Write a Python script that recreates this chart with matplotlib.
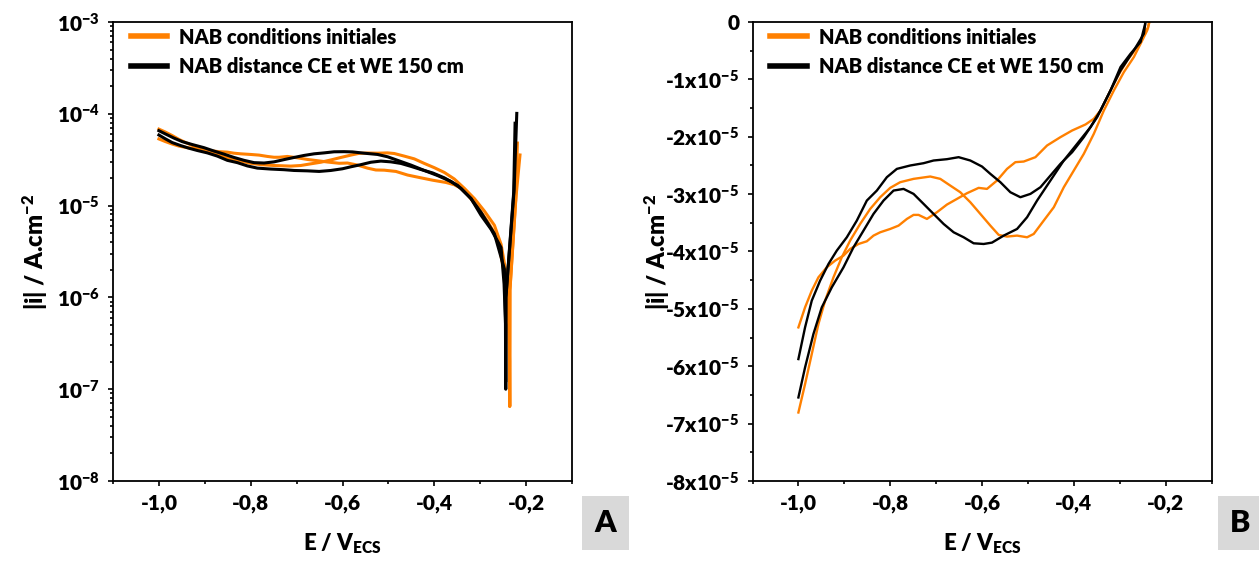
import numpy as np
import matplotlib
matplotlib.use("Agg")
import matplotlib.pyplot as plt
from matplotlib.ticker import MultipleLocator, FuncFormatter, LogLocator, NullFormatter
from matplotlib.patches import Rectangle

FONT = ['Lato', 'DejaVu Sans']
W = 'heavy'
plt.rcParams['font.family'] = FONT
plt.rcParams['font.weight'] = W
plt.rcParams['mathtext.fontset'] = 'custom'
plt.rcParams['mathtext.bf'] = 'Lato:heavy'
plt.rcParams['mathtext.rm'] = 'Lato:heavy'
plt.rcParams['mathtext.it'] = 'Lato:heavy'
plt.rcParams['mathtext.default'] = 'bf'

# ---------------- data (E in V vs ECS, i in 1e-5 A/cm2) ----------------
E_orange1 = [-1.000, -0.9855, -0.9709, -0.9564, -0.9382, -0.9200, -0.9018, -0.8873, -0.8691, -0.8509,
             -0.8364, -0.8218, -0.8000, -0.7818, -0.7636, -0.7491, -0.7382, -0.7200, -0.6982, -0.6764,
             -0.6545, -0.6327, -0.6073, -0.5891, -0.5673, -0.5455, -0.5273, -0.5091, -0.4836, -0.4582,
             -0.4291, -0.4036, -0.3745, -0.3564, -0.3418, -0.3273, -0.3055, -0.2836, -0.2618, -0.2436,
             -0.2385, -0.2360, -0.2356, -0.2352, -0.2225, -0.2190]
i_orange1 = [-5.323, -4.974, -4.683, -4.450, -4.276, -4.159, -4.072, -3.956, -3.869, -3.822,
             -3.723, -3.665, -3.607, -3.549, -3.432, -3.362, -3.362, -3.432, -3.316, -3.182,
             -3.083, -2.984, -2.891, -2.909, -2.763, -2.560, -2.443, -2.432, -2.356, -2.152,
             -2.007, -1.891, -1.786, -1.687, -1.542, -1.309, -0.960, -0.669, -0.436, -0.145,
             -0.110, -0.020, -0.0065, 0.120, 1.150, 4.800]

E_orange2 = [-1.000, -0.9855, -0.9709, -0.9564, -0.9418, -0.9236, -0.9055, -0.8873, -0.8655, -0.8436,
             -0.8218, -0.8000, -0.7782, -0.7491, -0.7127, -0.6909, -0.6691, -0.6473, -0.6255, -0.6036,
             -0.5818, -0.5636, -0.5455, -0.5236, -0.5018, -0.4873, -0.4655, -0.4436, -0.4218, -0.4000,
             -0.3782, -0.3564, -0.3345, -0.3127, -0.2909, -0.2691, -0.2545, -0.2400, -0.2365, -0.2358,
             -0.2353, -0.2230, -0.2133]
i_orange2 = [-6.806, -6.312, -5.788, -5.265, -4.857, -4.450, -4.101, -3.810, -3.520, -3.258,
             -3.054, -2.891, -2.792, -2.734, -2.693, -2.734, -2.851, -2.967, -3.141, -3.345,
             -3.549, -3.711, -3.740, -3.723, -3.752, -3.694, -3.461, -3.229, -2.880, -2.589,
             -2.298, -1.949, -1.542, -1.193, -0.873, -0.611, -0.378, -0.145, -0.030, -0.0065,
             0.120, 1.100, 3.560]

E_black1 = [-1.000, -0.9855, -0.9709, -0.9527, -0.9345, -0.9164, -0.8945, -0.8727, -0.8509, -0.8291,
            -0.8073, -0.7855, -0.7564, -0.7273, -0.7055, -0.6764, -0.6509, -0.6255, -0.6000, -0.5818,
            -0.5600, -0.5382, -0.5164, -0.4945, -0.4727, -0.4509, -0.4291, -0.4036, -0.3782, -0.3491,
            -0.3200, -0.2982, -0.2764, -0.2545, -0.2480, -0.2447, -0.2443, -0.2440, -0.2261, -0.2203]
i_black1 = [-5.875, -5.323, -4.857, -4.508, -4.218, -3.985, -3.752, -3.461, -3.112, -2.938,
            -2.705, -2.560, -2.501, -2.461, -2.414, -2.391, -2.356, -2.414, -2.519, -2.647,
            -2.792, -2.967, -3.054, -2.996, -2.880, -2.676, -2.472, -2.269, -2.007, -1.658,
            -1.193, -0.785, -0.553, -0.349, -0.140, -0.050, -0.010, 0.100, 1.500, 10.10]

E_black2 = [-1.000, -0.9855, -0.9673, -0.9491, -0.9273, -0.9018, -0.8800, -0.8582, -0.8364, -0.8145,
            -0.7927, -0.7709, -0.7491, -0.7273, -0.7055, -0.6836, -0.6618, -0.6400, -0.6182, -0.5964,
            -0.5782, -0.5527, -0.5236, -0.5018, -0.4800, -0.4509, -0.4218, -0.3927, -0.3636, -0.3418,
            -0.3200, -0.2982, -0.2691, -0.2473, -0.2450, -0.2445, -0.2441, -0.2270, -0.2240]
i_black2 = [-6.544, -6.021, -5.439, -4.974, -4.625, -4.276, -3.927, -3.636, -3.345, -3.112,
            -2.938, -2.909, -2.996, -3.170, -3.345, -3.520, -3.665, -3.752, -3.857, -3.869,
            -3.845, -3.723, -3.607, -3.403, -3.112, -2.763, -2.414, -2.123, -1.832, -1.542,
            -1.193, -0.844, -0.494, -0.204, -0.060, -0.012, 0.100, 1.400, 7.900]

labels = ['NAB conditions initiales', 'NAB distance CE et WE 150 cm']
ORANGE = '#FF8000'
BLACK = '#000000'
UNIT = 1e-5

series = [(E_orange1, i_orange1, ORANGE, labels[0]),
          (E_orange2, i_orange2, ORANGE, None),
          (E_black1, i_black1, BLACK, labels[1]),
          (E_black2, i_black2, BLACK, None)]

fig = plt.figure(figsize=(12.59, 5.65), dpi=100)
axA = fig.add_axes([113/1259, 84/565, 459/1259, 459/565])
axB = fig.add_axes([752.5/1259, 84/565, 459/1259, 459/565])

TICK_FS = 15
XLABEL_FS = 16
YLABEL_FS = 17

def style_axes(ax):
    for s in ax.spines.values():
        s.set_linewidth(1.3)
    ax.tick_params(which='both', direction='out', top=False, right=False, width=1.2, labelsize=TICK_FS)
    ax.tick_params(which='major', length=3.5, pad=6)
    ax.tick_params(which='minor', length=2.2)
    ax.set_xlim(-1.1, -0.1)
    ax.xaxis.set_major_locator(MultipleLocator(0.2))
    ax.xaxis.set_minor_locator(MultipleLocator(0.1))
    ax.xaxis.set_major_formatter(FuncFormatter(lambda v, p: f'{v:.1f}'.replace('.', ',')))
    ax.set_xlabel('E / V$_{ECS}$', fontsize=XLABEL_FS, fontweight=W, labelpad=13)
    for lab in ax.get_xticklabels() + ax.get_yticklabels():
        lab.set_fontweight(W)

# Panel A: log |i|
for E, i, c, lab in series:
    axA.plot(E, np.abs(np.array(i)) * UNIT, color=c, lw=2.2, label=lab)
axA.set_yscale('log')
axA.set_ylim(1e-8, 1e-3)
axA.yaxis.set_major_locator(LogLocator(base=10, numticks=10))
axA.yaxis.set_minor_locator(LogLocator(base=10, subs=np.arange(2, 10), numticks=20))
axA.yaxis.set_minor_formatter(NullFormatter())
axA.yaxis.set_major_formatter(FuncFormatter(lambda v, p: f'10$^{{{int(round(np.log10(v)))}}}$'))
style_axes(axA)
axA.set_ylabel('|i| / A.cm$^{-2}$', fontsize=YLABEL_FS, fontweight=W, labelpad=5)

# Panel B: linear i
for E, i, c, lab in series:
    axB.plot(E, np.array(i) * UNIT, color=c, lw=1.7, label=lab)
axB.set_ylim(-8e-5, 0)
axB.yaxis.set_major_locator(MultipleLocator(1e-5))
axB.yaxis.set_minor_locator(MultipleLocator(0.5e-5))

def fmtB(v, p):
    n = int(round(v / 1e-5))
    return '0' if n == 0 else f'{n}x10$^{{-5}}$'
axB.yaxis.set_major_formatter(FuncFormatter(fmtB))
style_axes(axB)
axB.set_ylabel('|i| / A.cm$^{-2}$', fontsize=YLABEL_FS, fontweight=W, labelpad=-5)

for ax in (axA, axB):
    leg = ax.legend(loc='upper left', bbox_to_anchor=(0.039, 0.988), frameon=False,
                    borderaxespad=0, borderpad=0, handlelength=1.8, handletextpad=0.6,
                    labelspacing=0.5, prop={'family': FONT, 'weight': W, 'size': 14.5})
    for ln in leg.get_lines():
        ln.set_linewidth(4)

# Panel letters
for x0, w, tx, letter in [(582/1259, 47/1259, 605.5/1259, 'A'), (1217.7/1259, 41.3/1259, 1240/1259, 'B')]:
    fig.patches.append(Rectangle((x0, 15/565), w, 54.3/565, transform=fig.transFigure,
                                 facecolor='#d9d9d9', edgecolor='none'))
    fig.text(tx, (565 - 523) / 565, letter, ha='center', va='center',
             fontsize=22, fontweight=W, family=FONT)

fig.savefig('out.png', dpi=100)
